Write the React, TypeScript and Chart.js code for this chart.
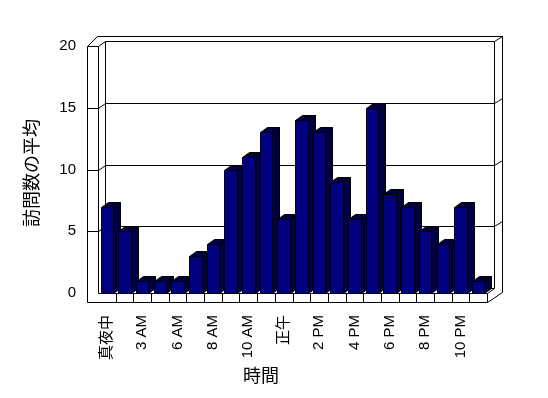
import React, { useEffect, useRef } from "react";
import { Chart, registerables } from "chart.js";

Chart.register(...registerables);

const categories = [
  "真夜中", "1 AM", "3 AM", "4 AM", "6 AM", "7 AM", "8 AM", "9 AM", "10 AM", "11 AM", "正午",
  "1 PM", "2 PM", "3 PM", "4 PM", "5 PM", "6 PM", "7 PM", "8 PM", "9 PM", "10 PM", "11 PM",
];
const visits = [7, 5, 1, 1, 1, 3, 4, 10, 11, 13, 6, 14, 13, 9, 6, 15, 8, 7, 5, 4, 7, 1];
const yMin = 0;
const yMax = 20;
const yStep = 5;
const yTitle = "訪問数の平均";
const xTitle = "時間";

const FONT = '"Liberation Sans", "Noto Sans CJK JP", sans-serif';
const TITLE_FONT = '"Noto Sans CJK JP", sans-serif';
const NAVY = "#000080";
const DX = 7;
const DY = -5;
const WALL = 11;
const FLOOR = 9;

const p = (v: number) => Math.round(v) + 0.5;

function makePattern(ctx: CanvasRenderingContext2D) {
  const c = document.createElement("canvas");
  c.width = 2;
  c.height = 2;
  const g = c.getContext("2d")!;
  g.fillStyle = "#000000";
  g.fillRect(0, 0, 2, 2);
  g.fillStyle = NAVY;
  g.fillRect(0, 0, 1, 1);
  g.fillRect(1, 1, 1, 1);
  return ctx.createPattern(c, "repeat") || "#000040";
}

const threeD = {
  id: "threeD",
  beforeDatasetsDraw(chart: any) {
    const { ctx, chartArea: a, scales } = chart;
    const ys = scales.y;
    const xs = scales.x;
    const L = p(a.left);
    const R = p(a.right);
    const T = p(ys.getPixelForValue(yMax));
    const B = p(ys.getPixelForValue(yMin));
    const OL = L - WALL;
    const BL = L + DX;
    const BR = R + DX;
    const BT = T + DY;
    const BB = B + DY;
    const OT = BT - 5;
    const OR = BR + 8;
    const FB = B + FLOOR;
    ctx.save();
    ctx.fillStyle = "#ffffff";
    ctx.fillRect(OL, OT, OR - OL, FB - OT);
    ctx.strokeStyle = "#000000";
    ctx.lineWidth = 1;
    ctx.beginPath();
    // left wall front face
    ctx.moveTo(OL, T); ctx.lineTo(OL, FB);
    ctx.moveTo(OL, T); ctx.lineTo(L, T);
    ctx.moveTo(L, T); ctx.lineTo(L, B);
    // outer shell
    ctx.moveTo(OL, T); ctx.lineTo(OL + 10, OT); ctx.lineTo(OR, OT); ctx.lineTo(OR, B - 1);
    // inner back wall
    ctx.moveTo(L, T); ctx.lineTo(BL, BT); ctx.lineTo(BR, BT); ctx.lineTo(BR, BB);
    ctx.moveTo(BL, BT); ctx.lineTo(BL, BB);
    ctx.moveTo(BR, BT); ctx.lineTo(OR, OT);
    // floor
    ctx.moveTo(L, B); ctx.lineTo(R, B); ctx.lineTo(BR, BB);
    ctx.moveTo(OL, FB); ctx.lineTo(R, FB); ctx.lineTo(OR, B - 1);
    ctx.moveTo(R, B); ctx.lineTo(R, FB);
    ctx.moveTo(BL, BB); ctx.lineTo(BR, BB);
    // grid lines
    for (let v = yMin + yStep; v < yMax; v += yStep) {
      const gy = p(ys.getPixelForValue(v));
      ctx.moveTo(OL, gy); ctx.lineTo(L, gy); ctx.lineTo(BL, gy + DY);
      ctx.lineTo(BR, gy + DY); ctx.lineTo(OR, gy + DY - 5);
    }
    // category dividers on floor front
    for (let i = 1; i < categories.length; i++) {
      const bx = p((xs.getPixelForValue(i - 1) + xs.getPixelForValue(i)) / 2);
      ctx.moveTo(bx, B); ctx.lineTo(bx, FB);
    }
    ctx.stroke();
    ctx.restore();
  },
  afterDatasetsDraw(chart: any) {
    const { ctx } = chart;
    const meta = chart.getDatasetMeta(0);
    const pat = makePattern(ctx);
    ctx.save();
    ctx.strokeStyle = "#000000";
    ctx.lineWidth = 1;
    meta.data.forEach((el: any) => {
      const { x, y, base, width } = el.getProps(["x", "y", "base", "width"], true);
      const x0 = p(x - width / 2);
      const x1 = p(x + width / 2);
      const yt = p(y);
      const yb = p(base);
      // side
      ctx.beginPath();
      ctx.moveTo(x1, yt); ctx.lineTo(x1 + DX, yt + DY); ctx.lineTo(x1 + DX, yb + DY); ctx.lineTo(x1, yb);
      ctx.closePath();
      ctx.fillStyle = pat;
      ctx.fill();
      ctx.stroke();
      // top
      ctx.beginPath();
      ctx.moveTo(x0, yt); ctx.lineTo(x0 + DX, yt + DY); ctx.lineTo(x1 + DX, yt + DY); ctx.lineTo(x1, yt);
      ctx.closePath();
      ctx.fill();
      ctx.stroke();
      // front
      ctx.beginPath();
      ctx.rect(x0, yt, x1 - x0, yb - yt);
      ctx.fillStyle = NAVY;
      ctx.fill();
      ctx.stroke();
    });
    ctx.restore();
  },
  afterDraw(chart: any) {
    const { ctx } = chart;
    ctx.save();
    ctx.fillStyle = "#000000";
    ctx.font = `18px ${TITLE_FONT}`;
    ctx.textAlign = "center";
    ctx.textBaseline = "middle";
    ctx.fillText(xTitle, 261, 375);
    ctx.translate(31, 173);
    ctx.rotate(-Math.PI / 2);
    ctx.fillText(yTitle, 0, 0);
    ctx.restore();
  },
};

export default function App() {
  const ref = useRef<HTMLCanvasElement>(null);
  useEffect(() => {
    const canvas = ref.current!;
    const chart = new Chart(canvas, {
      type: "bar",
      data: {
        labels: categories,
        datasets: [
          {
            data: visits,
            backgroundColor: "rgba(0,0,0,0)",
            borderWidth: 0,
            barPercentage: 0.71,
            categoryPercentage: 1,
          },
        ],
      },
      options: {
        animation: false,
        responsive: false,
        devicePixelRatio: 1,
        layout: { padding: { left: 0, top: 46, right: 61, bottom: 0 } },
        plugins: { legend: { display: false }, tooltip: { enabled: false } },
        scales: {
          x: {
            type: "category",
            grid: { display: false, drawTicks: false },
            border: { display: false },
            ticks: {
              autoSkip: false,
              minRotation: 90,
              maxRotation: 90,
              padding: 22,
              color: "#000000",
              font: { family: FONT, size: 15 },
              callback: (_v: any, i: number) => (i % 2 === 0 ? categories[i] : ""),
            },
            afterFit: (s: any) => { s.height = 105; },
          },
          y: {
            min: yMin,
            max: yMax,
            grid: { display: false, drawTicks: false },
            border: { display: false },
            ticks: { stepSize: yStep, padding: 22, color: "#000000", font: { family: FONT, size: 15 } },
            afterFit: (s: any) => { s.width = 98; },
          },
        },
      },
      plugins: [threeD],
    } as any);
    return () => chart.destroy();
  }, []);
  return (
    <div style={{ position: "absolute", left: 0, top: 0, width: 548, height: 398, background: "#ffffff" }}>
      <canvas ref={ref} width={548} height={398} style={{ display: "block", width: 548, height: 398 }} />
    </div>
  );
}
